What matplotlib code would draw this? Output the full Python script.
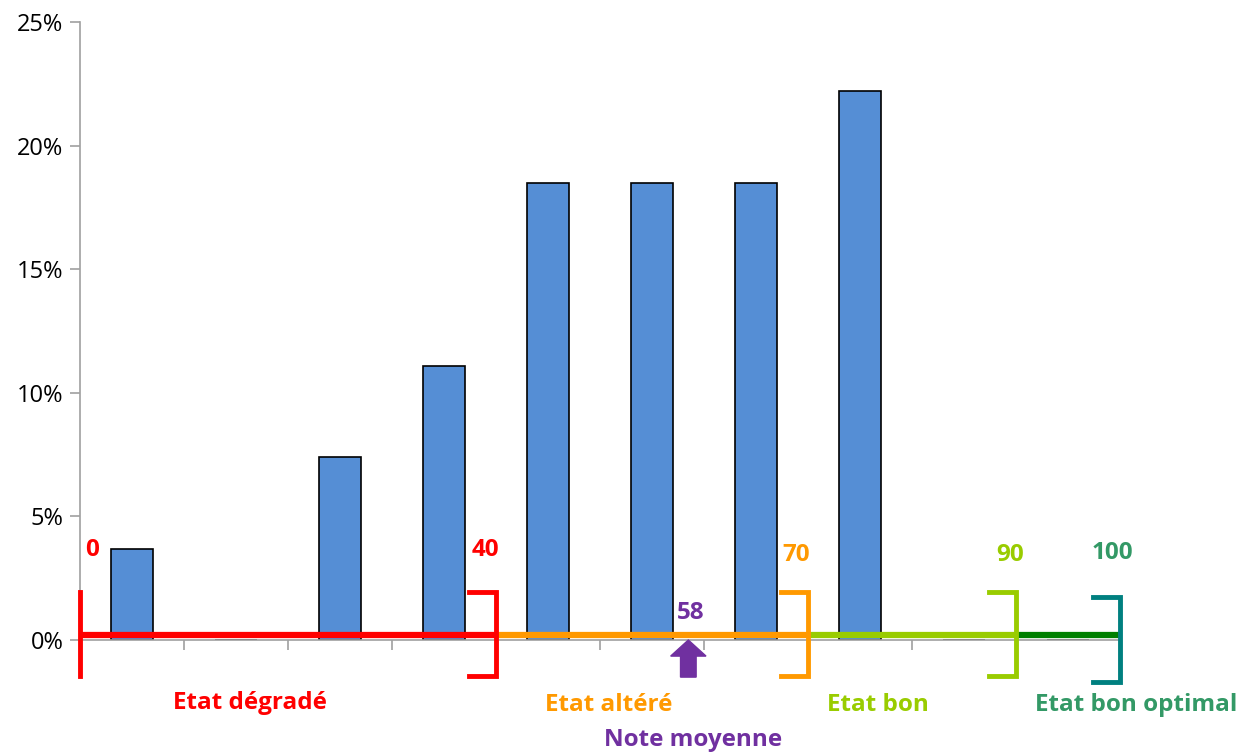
import matplotlib.pyplot as plt
from matplotlib.patches import FancyArrow

# ---------- data ----------
bins = ['0-10', '10-20', '20-30', '30-40', '40-50', '50-60', '60-70', '70-80', '80-90', '90-100']
shares = [3.7, 0.0, 7.4, 11.1, 18.5, 18.5, 18.5, 22.2, 0.0, 0.0]   # % of stations

bounds = [0, 40, 70, 90, 100]
seg_colors = ['#FF0000', '#FF9900', '#99CC00', '#008000']
bracket_colors = ['#FF0000', '#FF0000', '#FF9900', '#99CC00', '#008080']
bound_text_colors = ['#FF0000', '#FF0000', '#FF9900', '#99CC00', '#339966']
state_labels = ['Etat dégradé', 'Etat altéré', 'Etat bon', 'Etat bon optimal']
state_colors = ['#FF0000', '#FF9900', '#99CC00', '#339966']
mean_score = 58
purple = '#7030A0'

plt.rcParams['font.family'] = ['Open Sans', 'DejaVu Sans']
LABEL = dict(fontsize=17.5, fontweight='bold', ha='center', va='center', clip_on=False)


def sx(score):
    """score (0-100) -> category axis position"""
    return score / 10 - 0.5


fig = plt.figure(figsize=(12.53, 7.56), dpi=100)
ax = fig.add_axes([0.0638, 0.1534, 0.830, 0.8175])

x = range(len(bins))
ax.bar(x, shares, width=0.4, color='#558ED5', edgecolor='black', linewidth=1.2, zorder=2)

ax.set_xlim(-0.5, len(bins) - 0.5)
ax.set_ylim(0, 25)
ax.set_yticks([0, 5, 10, 15, 20, 25])
ax.set_yticklabels([f'{v}%' for v in range(0, 30, 5)], fontsize=17)
ax.set_xticks([k - 0.5 for k in range(len(bins) + 1)])
ax.set_xticklabels([])
for s in ['top', 'right']:
    ax.spines[s].set_visible(False)
for s in ['left', 'bottom']:
    ax.spines[s].set_color('#A0A0A0')
    ax.spines[s].set_linewidth(1.2)
ax.tick_params(axis='both', colors='#A0A0A0', length=7, width=1.2, labelcolor='black')
ax.tick_params(axis='y', pad=5)

# coloured score scale along the baseline
for i, c in enumerate(seg_colors):
    ax.plot([sx(bounds[i]), sx(bounds[i + 1])], [0.2, 0.2], color=c, lw=4.5,
            solid_capstyle='butt', zorder=3, clip_on=False)

# brackets at the class boundaries
arm = 0.26
for i, b in enumerate(bounds):
    bx = sx(b)
    c = bracket_colors[i]
    top, bot = (1.95, -1.45) if i < 4 else (1.75, -1.7)
    if i == 0:
        ax.plot([bx, bx], [top, bot], color=c, lw=3.5, zorder=4, clip_on=False)
    else:
        ax.plot([bx - arm, bx, bx, bx - arm], [top, top, bot, bot], color=c, lw=3.5,
                solid_joinstyle='miter', zorder=4, clip_on=False)

# boundary values
bound_pos = [(-0.385, 3.64), (3.4, 3.64), (6.39, 3.44), (8.44, 3.44), (9.43, 3.52)]
for (tx, ty), b, c in zip(bound_pos, bounds, bound_text_colors):
    ax.text(tx, ty, str(b), color=c, **LABEL)

# class names under the axis
state_pos = [(1.13, -2.55), (4.58, -2.63), (7.17, -2.63), (9.66, -2.63)]
for (tx, ty), lab, c in zip(state_pos, state_labels, state_colors):
    ax.text(tx, ty, lab, color=c, **LABEL)

# mean score marker
mx = sx(mean_score) + 0.05
arrow = FancyArrow(mx, -1.5, 0, 1.5, width=0.15, head_width=0.34, head_length=0.65,
                   length_includes_head=True, color=purple, zorder=5, clip_on=False)
ax.add_patch(arrow)
ax.text(mx + 0.02, 1.09, str(mean_score), color=purple, **LABEL)
ax.text(mx + 0.05, -4.05, 'Note moyenne', color=purple, **LABEL)

fig.savefig('out.png', dpi=100)
